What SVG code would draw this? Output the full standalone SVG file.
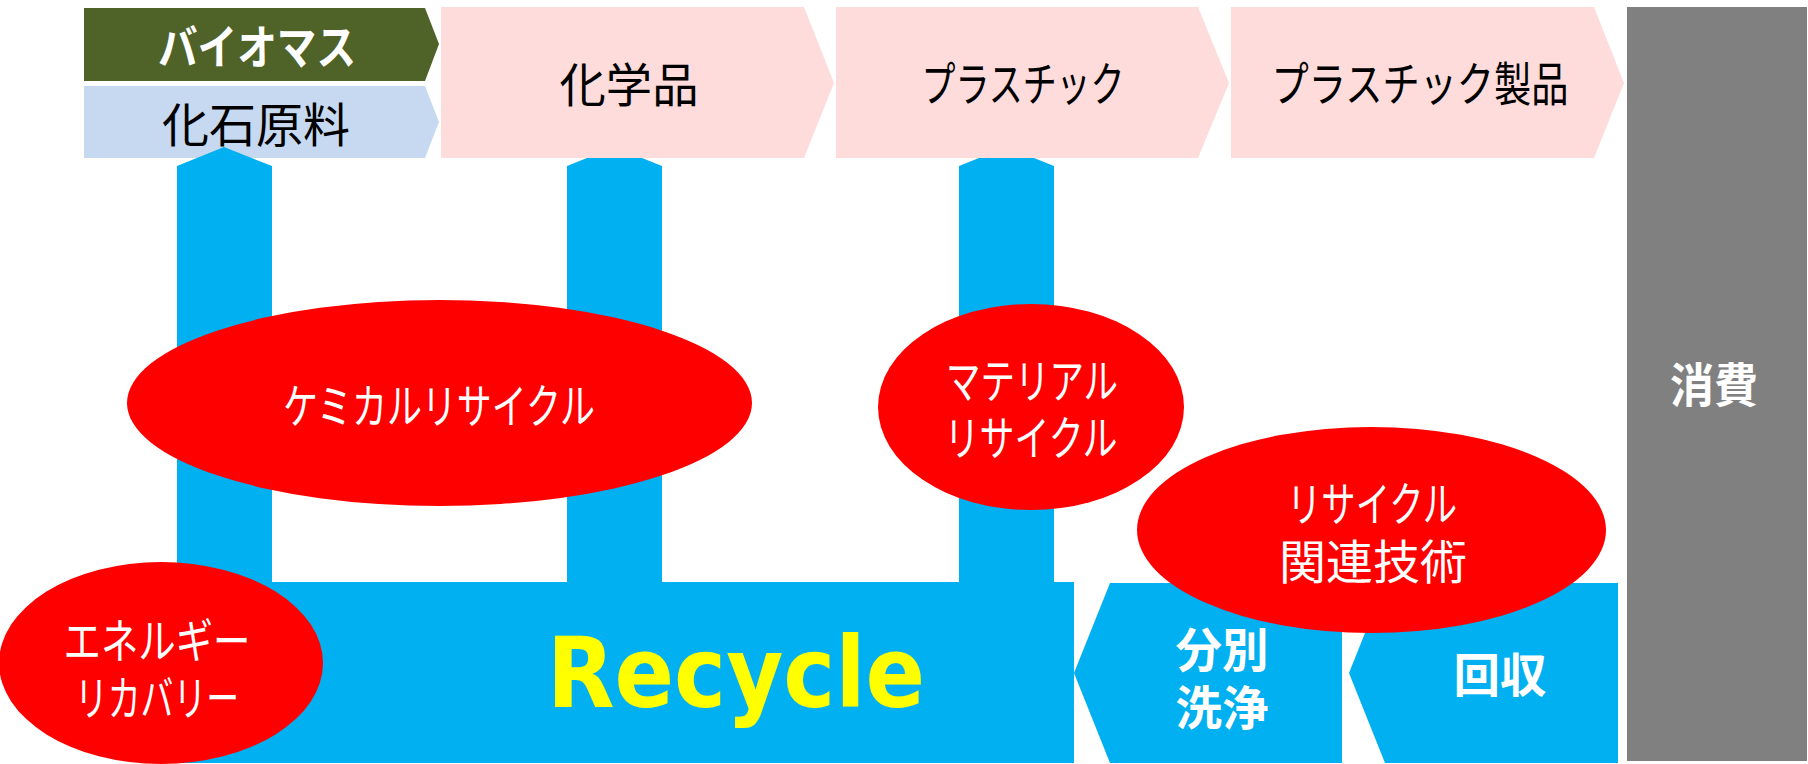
<svg xmlns="http://www.w3.org/2000/svg" width="1808" height="764" viewBox="0 0 1808 764">
<style>
.pink{fill:#FDDCDB}
.blue{fill:#00B0F0}
.red{fill:#FF0000}
.jp{font-family:"Noto Sans CJK JP","Noto Sans CJK SC",sans-serif;font-size:47px;text-anchor:middle}
.blk{fill:#000000}
.wht{fill:#FFFFFF}
.bold{font-weight:bold}
</style>
<rect width="1808" height="764" fill="#FFFFFF"/>
<g id="biomass">
<polygon points="84,8 425,8 439,44 425,81 84,81" fill="#4F6228"/>
<text class="jp wht bold" x="257" y="64" font-size="46" textLength="198" lengthAdjust="spacingAndGlyphs">バイオマス</text>
</g>
<g id="fossil">
<polygon points="84,86 425,86 439,122 425,158 84,158" fill="#C6D9F1"/>
<text class="jp blk" x="256" y="142" textLength="188" lengthAdjust="spacingAndGlyphs">化石原料</text>
</g>
<g id="chemicals">
<polygon class="pink" points="441,7 804,7 834,83 804,158 441,158"/>
<text class="jp blk" x="629" y="102" textLength="139" lengthAdjust="spacingAndGlyphs">化学品</text>
</g>
<g id="plastic">
<polygon class="pink" points="836,7 1198,7 1229,83 1198,158 836,158"/>
<text class="jp blk" x="1023" y="101" textLength="203" lengthAdjust="spacingAndGlyphs">プラスチック</text>
</g>
<g id="products">
<polygon class="pink" points="1231,7 1594,7 1624,83 1594,158 1231,158"/>
<text class="jp blk" x="1420" y="101" textLength="297" lengthAdjust="spacingAndGlyphs">プラスチック製品</text>
</g>
<g id="consumption">
<rect x="1627" y="7" width="180" height="754" fill="#808080"/>
<text class="jp wht bold" x="1714" y="402" font-size="44" textLength="88" lengthAdjust="spacingAndGlyphs">消費</text>
</g>
<g id="connectors">
<polygon class="blue" points="177,582 177,166 224,147 272,166 272,582"/>
<polygon class="blue" points="567,582 567,166 587,158 642,158 662,166 662,582"/>
<polygon class="blue" points="959,582 959,166 979,158 1034,158 1054,166 1054,582"/>
</g>
<g id="recycle">
<rect class="blue" x="177" y="582" width="897" height="181"/>
<text x="736" y="707" font-family="DejaVu Sans, sans-serif" font-weight="bold" font-size="98" fill="#FFFF00" text-anchor="middle" textLength="378" lengthAdjust="spacingAndGlyphs">Recycle</text>
</g>
<g id="sorting">
<polygon class="blue" points="1110,583 1342,583 1342,763 1110,763 1074,673"/>
<text class="jp wht bold" x="1222" y="667" font-size="46" textLength="93" lengthAdjust="spacingAndGlyphs">分別</text>
<text class="jp wht bold" x="1222" y="725" font-size="46" textLength="93" lengthAdjust="spacingAndGlyphs">洗浄</text>
</g>
<g id="collection">
<polygon class="blue" points="1385,583 1618,583 1618,763 1385,763 1349,673"/>
<text class="jp wht bold" x="1500" y="692" font-size="46" textLength="93" lengthAdjust="spacingAndGlyphs">回収</text>
</g>
<g id="chemical-recycle">
<ellipse class="red" cx="439.5" cy="403" rx="312.5" ry="103"/>
<text class="jp wht" x="439" y="423" textLength="312" lengthAdjust="spacingAndGlyphs">ケミカルリサイクル</text>
</g>
<g id="material-recycle">
<ellipse class="red" cx="1031" cy="407" rx="153" ry="103"/>
<text class="jp wht" x="1032" y="398" textLength="172" lengthAdjust="spacingAndGlyphs">マテリアル</text>
<text class="jp wht" x="1031" y="455" textLength="173" lengthAdjust="spacingAndGlyphs">リサイクル</text>
</g>
<g id="recycle-tech">
<ellipse class="red" cx="1371.5" cy="530" rx="234.5" ry="103"/>
<text class="jp wht" x="1372" y="521" textLength="170" lengthAdjust="spacingAndGlyphs">リサイクル</text>
<text class="jp wht" x="1373" y="579" textLength="188" lengthAdjust="spacingAndGlyphs">関連技術</text>
</g>
<g id="energy-recovery">
<ellipse class="red" cx="161" cy="663" rx="162" ry="101"/>
<text class="jp wht" x="157" y="658" textLength="187" lengthAdjust="spacingAndGlyphs">エネルギー</text>
<text class="jp wht" x="157" y="715" textLength="164" lengthAdjust="spacingAndGlyphs">リカバリー</text>
</g>
</svg>
